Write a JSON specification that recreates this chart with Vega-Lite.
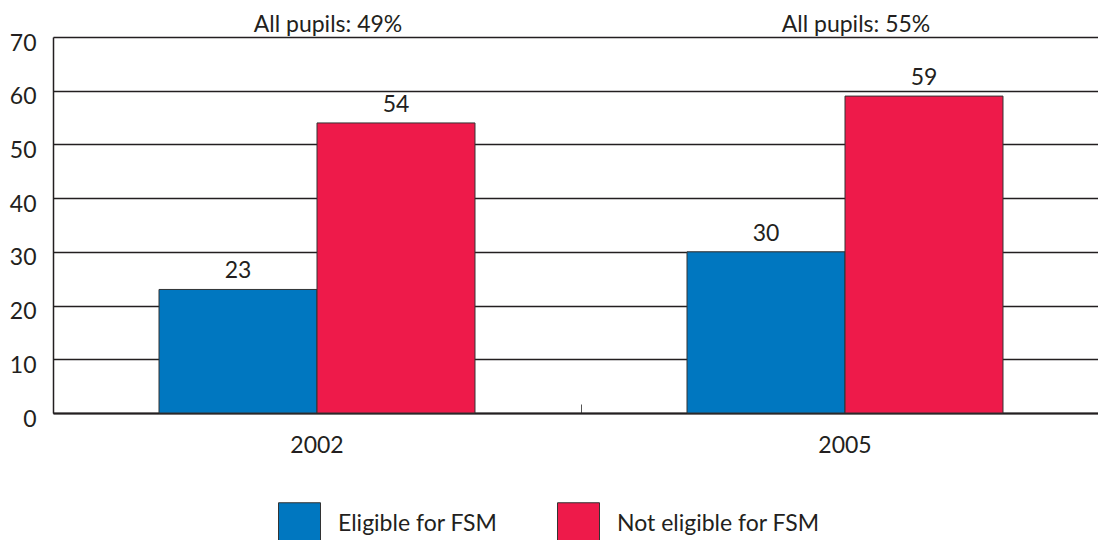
{
  "$schema": "https://vega.github.io/schema/vega-lite/v6.json",
  "width": 1045,
  "height": 376,
  "autosize": {"type": "none"},
  "padding": {"left": 53, "top": 37, "right": 0, "bottom": 127},
  "background": "white",
  "config": {
    "view": {"stroke": null},
    "font": "Lato",
    "text": {"font": "Lato", "fontSize": 23, "color": "#231f20"}
  },
  "datasets": {
    "bars": [
      {"year": "2002", "group": "Eligible for FSM", "value": 23},
      {"year": "2002", "group": "Not eligible for FSM", "value": 54},
      {"year": "2005", "group": "Eligible for FSM", "value": 30},
      {"year": "2005", "group": "Not eligible for FSM", "value": 59}
    ],
    "allp": [
      {"year": "2002", "label": "All pupils: 49%"},
      {"year": "2005", "label": "All pupils: 55%"}
    ]
  },
  "layer": [
    {
      "data": {"name": "bars"},
      "mark": {"type": "bar", "stroke": "#333333", "strokeWidth": 1},
      "encoding": {
        "x": {
          "field": "year", "type": "nominal",
          "scale": {"type": "band", "range": [0, 1056], "paddingInner": 0, "paddingOuter": 0},
          "axis": {
            "title": null, "bandPosition": 0, "labelOffset": 0,
            "labelFont": "Lato", "labelFontSize": 23, "labelColor": "#231f20",
            "labelAngle": 0, "labelPadding": 30, "labelBaseline": "top",
            "ticks": true, "tickSize": -9, "tickColor": "#555555", "tickWidth": 1,
            "domain": true, "domainColor": "#231f20", "domainWidth": 2, "grid": false
          }
        },
        "xOffset": {
          "field": "group", "type": "nominal",
          "scale": {"paddingInner": 0, "paddingOuter": 0.671}
        },
        "y": {
          "field": "value", "type": "quantitative",
          "scale": {"domain": [0, 70], "nice": false},
          "axis": {
            "title": null, "values": [0, 10, 20, 30, 40, 50, 60, 70],
            "labelFont": "Lato", "labelFontSize": 23, "labelColor": "#231f20",
            "labelPadding": 17, "labelOffset": 6, "ticks": false,
            "domain": true, "domainColor": "#231f20", "domainWidth": 1.5,
            "grid": true, "gridColor": "#231f20", "gridWidth": 1.4
          }
        },
        "color": {
          "field": "group", "type": "nominal",
          "scale": {"domain": ["Eligible for FSM", "Not eligible for FSM"], "range": ["#0077c0", "#ee1a4a"]},
          "legend": {
            "title": null, "orient": "none", "legendX": 225, "legendY": 465,
            "direction": "horizontal", "padding": 0,
            "symbolType": "square", "symbolSize": 1764, "symbolStrokeColor": "#333333",
            "symbolStrokeWidth": 1, "symbolOpacity": 1,
            "labelFont": "Lato", "labelFontSize": 23, "labelColor": "#231f20",
            "labelOffset": 17, "columnPadding": 57, "labelLimit": 400
          }
        }
      }
    },
    {
      "data": {"name": "bars"},
      "mark": {"type": "text", "dy": -11, "baseline": "alphabetic", "align": "center"},
      "encoding": {
        "x": {"field": "year", "type": "nominal"},
        "xOffset": {"field": "group", "type": "nominal"},
        "y": {"field": "value", "type": "quantitative"},
        "text": {"field": "value", "type": "quantitative"}
      }
    },
    {
      "data": {"name": "allp"},
      "mark": {"type": "text", "dy": -5, "dx": 11, "baseline": "alphabetic", "align": "center"},
      "encoding": {
        "x": {"field": "year", "type": "nominal"},
        "y": {"datum": 70, "type": "quantitative"},
        "text": {"field": "label", "type": "nominal"}
      }
    }
  ]
}
